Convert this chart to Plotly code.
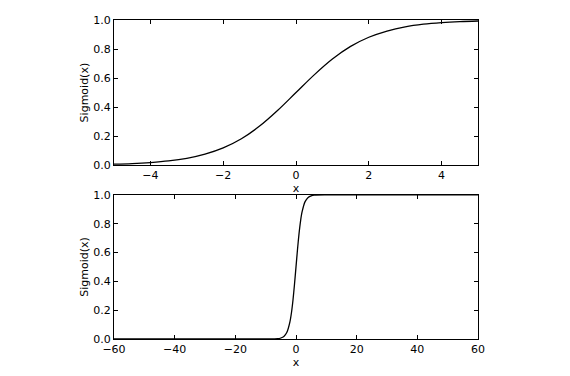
import plotly.graph_objects as go
from plotly.subplots import make_subplots

# Top panel: x in [-5, 5]
x_top = [-5, -4.5, -4, -3.5, -3, -2.5, -2, -1.5, -1, -0.5, 0, 0.5, 1, 1.5, 2, 2.5, 3, 3.5, 4, 4.5, 5]
y_top = [0.007, 0.011, 0.018, 0.029, 0.047, 0.076, 0.119, 0.182, 0.269, 0.378, 0.5,
         0.622, 0.731, 0.818, 0.881, 0.924, 0.953, 0.971, 0.982, 0.989, 0.993]

# Bottom panel: x in [-60, 60]
x_bot = [-60, -20, -10, -6, -5, -4, -3, -2, -1.5, -1, -0.5, 0, 0.5, 1, 1.5, 2, 3, 4, 5, 6, 10, 20, 60]
y_bot = [0.0, 0.0, 0.0, 0.002, 0.007, 0.018, 0.047, 0.119, 0.182, 0.269, 0.378, 0.5,
         0.622, 0.731, 0.818, 0.881, 0.953, 0.982, 0.993, 0.998, 1.0, 1.0, 1.0]

top_ticks = [-4, -2, 0, 2, 4]
bot_ticks = [-60, -40, -20, 0, 20, 40, 60]
y_ticks = [0.0, 0.2, 0.4, 0.6, 0.8, 1.0]

fig = make_subplots(rows=2, cols=1, vertical_spacing=0.09)
fig.add_trace(go.Scatter(x=x_top, y=y_top, mode="lines", line=dict(color="black", width=1.3, shape="spline"),
                         showlegend=False), row=1, col=1)
fig.add_trace(go.Scatter(x=x_bot, y=y_bot, mode="lines", line=dict(color="black", width=1.3, shape="spline", smoothing=0.6),
                         showlegend=False), row=2, col=1)

axis_common = dict(showline=True, linecolor="black", linewidth=1, mirror="ticks", ticks="inside",
                   ticklen=4, tickcolor="black", showgrid=False, zeroline=False,
                   tickfont=dict(family="DejaVu Sans", size=11, color="black"))

fig.update_xaxes(**axis_common)
fig.update_yaxes(**axis_common)

fig.update_xaxes(range=[-5, 5], tickvals=top_ticks, ticktext=["\u22124", "\u22122", "0", "2", "4"],
                 title=dict(text="x", standoff=0, font=dict(family="DejaVu Sans", size=11, color="black")),
                 row=1, col=1)
fig.update_xaxes(range=[-60, 60], tickvals=bot_ticks,
                 ticktext=["\u221260", "\u221240", "\u221220", "0", "20", "40", "60"],
                 title=dict(text="x", standoff=0, font=dict(family="DejaVu Sans", size=11, color="black")),
                 row=2, col=1)
for r in (1, 2):
    fig.update_yaxes(range=[0, 1], tickvals=y_ticks, ticktext=["0.0", "0.2", "0.4", "0.6", "0.8", "1.0"],
                     title=dict(text="Sigmoid(x)", standoff=2, font=dict(family="DejaVu Sans", size=11, color="black")),
                     row=r, col=1)

fig.update_layout(
    width=570, height=376,
    margin=dict(l=114, r=92, t=20, b=35),
    paper_bgcolor="white", plot_bgcolor="white",
    yaxis=dict(domain=[0.545, 1.0]),
    yaxis2=dict(domain=[0.0, 0.452]),
)

fig.write_html("out.html")
